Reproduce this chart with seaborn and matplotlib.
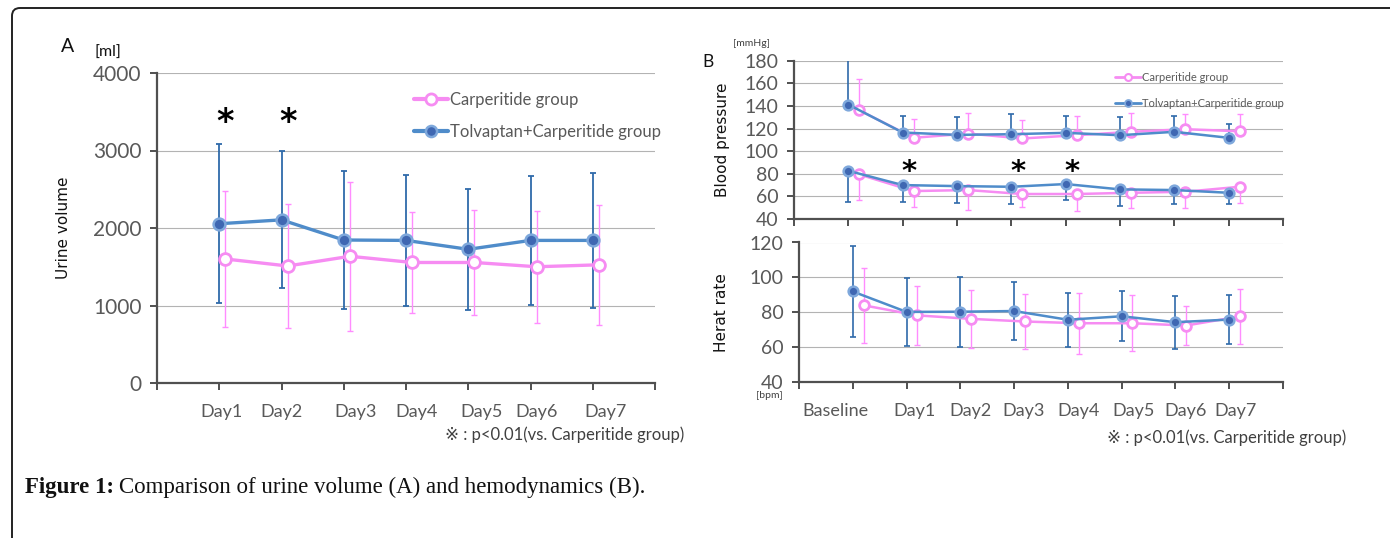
import numpy as np
import pandas as pd
import matplotlib
matplotlib.use("Agg")
import matplotlib.pyplot as plt
import seaborn as sns
from matplotlib.lines import Line2D
from matplotlib.patches import FancyBboxPatch
from matplotlib.transforms import IdentityTransform, ScaledTranslation

# ---- data ----
days = ["Day1", "Day2", "Day3", "Day4", "Day5", "Day6", "Day7"]
bp_days = ["Baseline", "Day1", "Day2", "Day3", "Day4", "Day5", "Day6", "Day7"]

urine_carp = [1600, 1510, 1635, 1555, 1555, 1500, 1525]
urine_carp_sd = [880, 800, 965, 650, 675, 720, 775]
urine_tolv = [2055, 2105, 1845, 1840, 1725, 1840, 1840]
urine_tolv_sd = [1025, 885, 885, 850, 780, 835, 873]

sbp_carp = [136.2, 111.8, 115.6, 111.2, 114.1, 117.1, 119.4, 117.6]
sbp_carp_sd = [28.0, 16.4, 18.5, 16.2, 17.1, 17.0, 13.8, 15.6]
sbp_tolv = [141.2, 116.5, 114.4, 115.0, 116.2, 114.1, 117.1, 111.8]
sbp_tolv_sd = [45.0, 14.7, 15.9, 18.2, 15.0, 16.2, 14.1, 12.0]

dbp_carp = [79.4, 64.7, 65.6, 62.1, 62.1, 63.2, 64.1, 68.5]
dbp_carp_sd = [22.6, 13.8, 17.7, 11.2, 15.0, 13.2, 14.1, 14.7]
dbp_tolv = [82.6, 70.0, 69.1, 68.5, 70.9, 66.2, 65.6, 63.2]
dbp_tolv_sd = [27.3, 14.7, 15.3, 15.6, 14.1, 14.4, 12.4, 10.3]

hr_carp = [84.0, 78.2, 76.2, 74.7, 73.7, 73.7, 72.4, 77.6]
hr_carp_sd = [21.4, 17.0, 16.5, 15.6, 17.5, 16.1, 11.3, 15.6]
hr_tolv = [91.9, 80.2, 80.3, 80.7, 75.7, 77.7, 74.3, 75.8]
hr_tolv_sd = [26.2, 19.7, 20.2, 16.6, 15.5, 14.4, 15.2, 14.0]

urine_sig = ["Day1", "Day2"]
bp_sig = ["Day1", "Day3", "Day4"]

groups = ["Carperitide group", "Tolvaptan+Carperitide group"]

# ---- styling ----
PINK = "#f68cf2"
PINK_ERR = "#ff8cff"
BLUE = "#4f8cca"
BLUE_FACE = "#3f67b2"
BLUE_EDGE = "#7ea8dc"
BLUE_ERR = "#2f6aaa"
GRID = "#b3b3b3"
SPINE = "#505050"
TICKC = "#595959"

sns.set_theme(style="white")
plt.rcParams["font.family"] = ["Lato", "DejaVu Sans", "Noto Sans CJK JP"]

W, H = 1390, 538
fig = plt.figure(figsize=(W / 100, H / 100), dpi=100)


def rect(l, t, r, b):
    return [l / W, 1 - b / H, (r - l) / W, (b - t) / H]


def style_axis(ax, ymin, ymax, ystep, nx, xfs, yfs):
    ax.set_ylim(ymin, ymax)
    ax.set_xlim(0, nx)
    ax.set_yticks(np.arange(ymin, ymax + ystep / 2, ystep))
    ax.set_xticks(np.arange(0, nx + 1))
    for y in np.arange(ymin + ystep, ymax + ystep / 2, ystep):
        ax.axhline(y, color=GRID, lw=0.8, zorder=0)
    for s in ["top", "right"]:
        ax.spines[s].set_visible(False)
    for s in ["left", "bottom"]:
        ax.spines[s].set_color(SPINE)
        ax.spines[s].set_linewidth(1.6)
    ax.tick_params(axis="both", direction="out", length=5, width=1.4,
                   color=SPINE, labelcolor=TICKC, bottom=True, left=True)
    ax.tick_params(axis="x", labelsize=xfs)
    ax.tick_params(axis="y", labelsize=yfs, pad=6)
    ax.set_xlabel("")
    ax.set_ylabel("")
    ax.set_facecolor("none")


def shift_xlabels(ax, offsets):
    # the original chart places its category labels a little off the ticks
    labels = ax.get_xticklabels()[1:-1]
    for lab, dx in zip(labels, offsets):
        lab.set_transform(lab.get_transform() + ScaledTranslation(dx / 100, 0, fig.dpi_scale_trans))


def series(ax, xs, ys, err, kind, lower, upper, lw, ms, elw, cap):
    df = pd.DataFrame({"x": xs, "y": ys})
    yerr = [np.array(err) * lower, np.array(err) * upper]
    if kind == 0:
        ax.errorbar(xs, ys, yerr=yerr, fmt="none", ecolor=PINK_ERR, elinewidth=elw,
                    capsize=cap, capthick=elw, zorder=2)
        sns.lineplot(data=df, x="x", y="y", ax=ax, color=PINK, lw=lw,
                     marker="o", markersize=ms, markerfacecolor="white",
                     markeredgecolor=PINK, markeredgewidth=2.0, zorder=3)
    else:
        ax.errorbar(xs, ys, yerr=yerr, fmt="none", ecolor=BLUE_ERR, elinewidth=elw,
                    capsize=cap, capthick=elw, zorder=2)
        sns.lineplot(data=df, x="x", y="y", ax=ax, color=BLUE, lw=lw,
                     marker="o", markersize=ms, markerfacecolor=BLUE_FACE,
                     markeredgecolor=BLUE_EDGE, markeredgewidth=1.8, zorder=4)


# ---- panel A ----
axA = fig.add_axes(rect(157, 73, 655, 383))
xa = np.arange(1, len(days) + 1)
series(axA, xa + 0.1, urine_carp, urine_carp_sd, 0, 1, 1, 2.4, 8.5, 1.0, 2)
series(axA, xa, urine_tolv, urine_tolv_sd, 1, 1, 1, 2.4, 8.5, 1.3, 2)
style_axis(axA, 0, 4000, 1000, 8, 13, 15)
axA.set_xticklabels([""] + days + [""])
axA.tick_params(axis="x", pad=10)
shift_xlabels(axA, [2, 0, 12, 11, 13, 6, 13])
for d in urine_sig:
    axA.text(days.index(d) + 1.1, 3360, "*", ha="center", va="center",
             fontsize=24, fontweight="bold", color="black", family="DejaVu Sans")
hA = [Line2D([], [], color=PINK, lw=3, marker="o", ms=8, mfc="white", mec=PINK, mew=2),
      Line2D([], [], color=BLUE, lw=3, marker="o", ms=8, mfc=BLUE_FACE, mec=BLUE_EDGE, mew=1.8)]
legA = axA.legend(hA, groups, loc="upper left", bbox_to_anchor=(0.5, 0.965),
                  frameon=False, fontsize=12, handlelength=2.0, handletextpad=0.15,
                  labelspacing=0.95, borderpad=0)
for t in legA.get_texts():
    t.set_color(TICKC)

# ---- panel B top: blood pressure ----
axB = fig.add_axes(rect(794, 60.7, 1283, 219))
xb = np.arange(1, len(bp_days) + 1)
series(axB, xb + 0.2, sbp_carp, sbp_carp_sd, 0, 0, 1, 1.8, 7, 1.0, 2.5)
series(axB, xb + 0.2, dbp_carp, dbp_carp_sd, 0, 1, 0, 1.8, 7, 1.0, 2.5)
series(axB, xb, sbp_tolv, sbp_tolv_sd, 1, 0, 1, 1.8, 7, 1.2, 2.5)
series(axB, xb, dbp_tolv, dbp_tolv_sd, 1, 1, 0, 1.8, 7, 1.2, 2.5)
style_axis(axB, 40, 180, 20, 9, 13, 14)
axB.set_xticklabels([])
for d in bp_sig:
    axB.text(bp_days.index(d) + 1.12, 82, "*", ha="center", va="center",
             fontsize=21, fontweight="bold", color="black", family="DejaVu Sans")
hB = [Line2D([], [], color=PINK, lw=2, marker="o", ms=5, mfc="white", mec=PINK, mew=1.5),
      Line2D([], [], color=BLUE, lw=2, marker="o", ms=5, mfc=BLUE_FACE, mec=BLUE_EDGE, mew=1.3)]
legB = axB.legend(hB, groups, loc="upper left", bbox_to_anchor=(0.645, 0.965),
                  frameon=False, fontsize=8, handlelength=2.3, handletextpad=0.1,
                  labelspacing=1.4, borderpad=0)
for t in legB.get_texts():
    t.set_color(TICKC)

# ---- panel B bottom: heart rate ----
axC = fig.add_axes(rect(799, 242.5, 1283, 382))
series(axC, xb + 0.2, hr_carp, hr_carp_sd, 0, 1, 1, 1.8, 7, 1.0, 2.5)
series(axC, xb, hr_tolv, hr_tolv_sd, 1, 1, 1, 1.8, 7, 1.2, 2.5)
style_axis(axC, 40, 120, 20, 9, 13, 14)
axC.set_xticklabels([""] + bp_days + [""])
axC.tick_params(axis="x", pad=10)
shift_xlabels(axC, [-17, 8, 10, 9, 11, 12, 10, 6])

# ---- figure texts ----
def ftext(x, y, s, **kw):
    fig.text(x / W, 1 - y / H, s, **kw)

ftext(68, 47, "A", fontsize=14, ha="center", va="center", color="#111111")
ftext(108, 53, "[ml]", fontsize=11.5, ha="center", va="center", color="#111111")
ftext(63, 228, "Urine volume", fontsize=11, rotation=90, ha="center", va="center",
      color="#111111", family="DejaVu Sans")
ftext(445, 435, "※ : p<0.01(vs. Carperitide group)", fontsize=12, ha="left",
      va="center", color="#404040")
ftext(708, 62, "B", fontsize=12.5, ha="center", va="center", color="#111111")
ftext(752, 44, "[mmHg]", fontsize=7.5, ha="center", va="center", color="#404040")
ftext(723, 140, "Blood pressure", fontsize=11, rotation=90, ha="center", va="center",
      color="#111111", family="DejaVu Sans")
ftext(722, 313, "Herat rate", fontsize=11, rotation=90, ha="center", va="center",
      color="#111111", family="DejaVu Sans")
ftext(769, 395, "[bpm]", fontsize=7.5, ha="center", va="center", color="#404040")
ftext(1107, 438, "※ : p<0.01(vs. Carperitide group)", fontsize=12, ha="left",
      va="center", color="#404040")

cap1 = fig.text(25 / W, 1 - 487 / H, "Figure 1:", fontsize=16.5, fontweight="bold",
                family="Liberation Serif", ha="left", va="center", color="#111111")
fig.canvas.draw()
bb = cap1.get_window_extent()
fig.text((bb.x1 + 5) / W, 1 - 487 / H, "Comparison of urine volume (A) and hemodynamics (B).",
         fontsize=16.5, family="Liberation Serif", ha="left", va="center", color="#111111")

# rounded frame around the whole figure
frame = FancyBboxPatch((12, -30), 1420, 560, boxstyle="round,pad=0,rounding_size=8",
                       transform=IdentityTransform(), fill=False, lw=1.4,
                       edgecolor="#222222", clip_on=False)
fig.patches.append(frame)

fig.savefig("out.png", dpi=100, facecolor="white")
